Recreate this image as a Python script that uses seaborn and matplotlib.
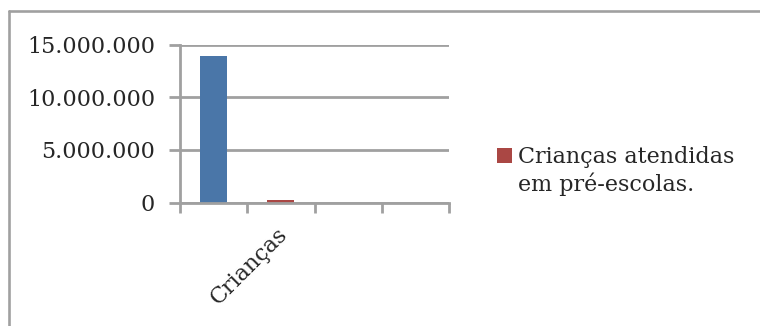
import matplotlib
matplotlib.use("Agg")
import matplotlib.pyplot as plt
import matplotlib.ticker as mticker
from matplotlib.patches import Patch
from matplotlib.lines import Line2D
from matplotlib.transforms import ScaledTranslation
import seaborn as sns
import pandas as pd

# ---- data ----
slots = [0, 1, 2, 3]
slot_labels = ["", "Crianças", "", ""]
blue_values = [13_900_000, 0, 0, 0]
red_values = [0, 200_000, 0, 0]
legend_lines = ["Crianças atendidas", "em pré-escolas."]
y_ticks = [0, 5_000_000, 10_000_000, 15_000_000]

BLUE = "#4a76a8"
RED = "#aa4744"
GRAY = "#a0a0a0"

sns.set_theme(style="white")
plt.rcParams["font.family"] = ["DejaVu Serif"]

fig = plt.figure(figsize=(7.6, 3.26), dpi=100)
ax = fig.add_axes([180 / 760, 1 - 202.5 / 326, 269 / 760, 158 / 326])

df_blue = pd.DataFrame({"slot": slots, "value": blue_values})
df_red = pd.DataFrame({"slot": slots, "value": red_values})
sns.barplot(data=df_blue, x="slot", y="value", color=BLUE, width=0.4,
            saturation=1, ax=ax, linewidth=0)
sns.barplot(data=df_red, x="slot", y="value", color=RED, width=0.4,
            saturation=1, ax=ax, linewidth=0)

ax.set_xlim(-0.5, len(slots) - 0.5)
ax.set_ylim(0, y_ticks[-1])
ax.set_xlabel("")
ax.set_ylabel("")

# y axis
ax.set_yticks(y_ticks)
ax.yaxis.set_major_formatter(
    mticker.FuncFormatter(lambda v, p: f"{int(v):,}".replace(",", ".")))
ax.tick_params(axis="y", length=8, width=2, color=GRAY, pad=10,
               labelsize=16, left=True)
ax.grid(axis="y", color=GRAY, linewidth=2)
ax.set_axisbelow(True)

# x axis: labels at centers, tick marks at boundaries
ax.set_xticks(slots)
ax.set_xticklabels(slot_labels, rotation=45, ha="right", fontsize=16)
ax.tick_params(axis="x", which="major", length=0, pad=15)
ax.set_xticks([s - 0.5 for s in slots] + [slots[-1] + 0.5], minor=True)
ax.tick_params(axis="x", which="minor", length=7, width=2, color=GRAY,
               bottom=True)
for lab in ax.get_xticklabels():
    lab.set_transform(lab.get_transform() +
                      ScaledTranslation(11 / 100, 0, fig.dpi_scale_trans))

for side in ["top", "right"]:
    ax.spines[side].set_visible(False)
for side in ["left", "bottom"]:
    ax.spines[side].set_color(GRAY)
    ax.spines[side].set_linewidth(2)

# legend (only the red series is shown); second line has no marker
handles = [Patch(facecolor=RED, edgecolor="none"),
           Patch(facecolor="none", edgecolor="none")]
fig.legend(handles, legend_lines, loc="upper left",
           bbox_to_anchor=(497 / 760, 1 - 146 / 326), frameon=False,
           fontsize=16, handlelength=0.68, handleheight=0.68,
           handletextpad=0.28, borderpad=0, borderaxespad=0,
           labelspacing=0.2)

# outer frame (left and top edges visible)
fig.add_artist(Line2D([8.5 / 760, 8.5 / 760], [0, 1 - 11 / 326],
                      transform=fig.transFigure, color=GRAY, linewidth=1.9))
fig.add_artist(Line2D([8.5 / 760, 1], [1 - 11 / 326, 1 - 11 / 326],
                      transform=fig.transFigure, color=GRAY, linewidth=1.9))

fig.savefig("out.png", dpi=100)
